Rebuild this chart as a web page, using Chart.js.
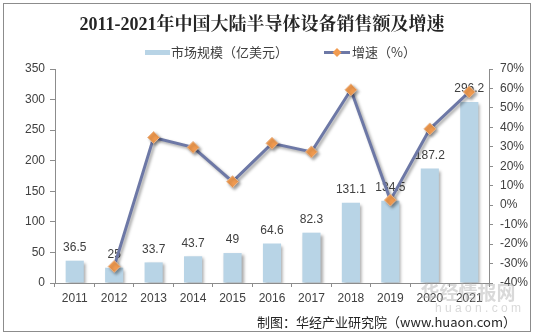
<!DOCTYPE html>
<html>
<head>
<meta charset="utf-8">
<script src="https://cdn.jsdelivr.net/npm/chart.js@4/dist/chart.umd.min.js"></script>
<style>
  html, body { margin: 0; padding: 0; background: #fff; }
  #c { display: block; }
</style>
</head>
<body>
<canvas id="c" width="535" height="336"></canvas>
<script>
const titleText = '2011-2021年中国大陆半导体设备销售额及增速';
const years = ['2011','2012','2013','2014','2015','2016','2017','2018','2019','2020','2021'];
const marketSize = [36.5, 25, 33.7, 43.7, 49, 64.6, 82.3, 131.1, 134.5, 187.2, 296.2];
const growthRate = [null, -31.5, 34.8, 29.7, 12.1, 31.8, 27.4, 59.3, 2.6, 39.2, 58.2];
const seriesNames = ['市场规模（亿美元）', '增速（%）'];
const sourceText = '制图：华经产业研究院（www.huaon.com）';

const BAR_COLOR = '#B8D4E6';
const LINE_COLOR = '#6D78A6';
const POINT_COLOR = '#F19B50';
const AXIS_COLOR = '#8C8C8C';
const TEXT_COLOR = '#404040';
const SANS = '"Liberation Sans", Arial, "Noto Sans CJK SC", sans-serif';
const CJK = '"Noto Sans CJK SC", "Liberation Sans", sans-serif';

const decor = {
  id: 'decor',
  beforeDraw(chart) {
    const ctx = chart.ctx;
    ctx.save();
    ctx.fillStyle = '#fff';
    ctx.fillRect(0, 0, chart.width, chart.height);
    ctx.restore();
  },
  beforeDatasetDraw(chart, args) {
    const ctx = chart.ctx;
    ctx.save();
    ctx.shadowColor = 'rgba(0,0,0,0.35)';
    ctx.shadowBlur = 3;
    ctx.shadowOffsetX = 2;
    ctx.shadowOffsetY = 2;
  },
  afterDatasetDraw(chart, args) {
    const ctx = chart.ctx;
    ctx.restore();
    if (chart.data.datasets[args.index].type === 'bar') {
      const meta = chart.getDatasetMeta(args.index);
      ctx.save();
      ctx.font = '12px ' + SANS;
      ctx.fillStyle = TEXT_COLOR;
      ctx.textAlign = 'center';
      ctx.textBaseline = 'middle';
      meta.data.forEach((el, i) => {
        ctx.fillText(String(marketSize[i]), el.x, el.y - 13);
      });
      ctx.restore();
    }
  },
  afterDraw(chart) {
    const ctx = chart.ctx;
    ctx.save();
    // border
    ctx.strokeStyle = AXIS_COLOR;
    ctx.lineWidth = 1;
    ctx.strokeRect(3.5, 3.5, 527, 328);
    // title
    ctx.fillStyle = '#262626';
    ctx.font = 'bold 18px "Liberation Serif", "Noto Serif CJK SC", "Noto Sans CJK SC", serif';
    ctx.textAlign = 'center';
    ctx.textBaseline = 'middle';
    ctx.fillText(titleText, 262, 25);
    // legend
    ctx.textAlign = 'left';
    ctx.font = '13px ' + CJK;
    ctx.fillStyle = BAR_COLOR;
    ctx.fillRect(145, 50, 25, 5);
    ctx.fillStyle = TEXT_COLOR;
    ctx.fillText(seriesNames[0], 171, 52);
    ctx.strokeStyle = LINE_COLOR;
    ctx.lineWidth = 3;
    ctx.beginPath();
    ctx.moveTo(324, 52.5);
    ctx.lineTo(350, 52.5);
    ctx.stroke();
    ctx.fillStyle = POINT_COLOR;
    ctx.beginPath();
    ctx.moveTo(337, 48);
    ctx.lineTo(341.5, 52.5);
    ctx.lineTo(337, 57);
    ctx.lineTo(332.5, 52.5);
    ctx.closePath();
    ctx.fill();
    ctx.fillStyle = TEXT_COLOR;
    ctx.fillText(seriesNames[1], 352, 52);
    // watermark
    ctx.fillStyle = 'rgba(170,170,170,0.45)';
    ctx.font = 'bold 19px ' + CJK;
    ctx.textAlign = 'center';
    ctx.fillText('华经情报网', 468, 293);
    ctx.font = '12px ' + SANS;
    ctx.fillText('h u a o n . c o m', 478, 309);
    // source
    ctx.fillStyle = '#262626';
    ctx.font = '13px ' + CJK;
    ctx.textAlign = 'right';
    ctx.fillText(sourceText, 516, 322);
    ctx.restore();
  }
};

new Chart(document.getElementById('c'), {
  data: {
    labels: years,
    datasets: [
      {
        type: 'line',
        label: seriesNames[1],
        data: growthRate,
        yAxisID: 'y1',
        borderColor: LINE_COLOR,
        borderWidth: 3,
        pointStyle: 'rectRot',
        pointRadius: 6,
        pointBackgroundColor: POINT_COLOR,
        pointBorderColor: '#E8B890',
        pointBorderWidth: 1,
        tension: 0,
        spanGaps: false,
        order: 0
      },
      {
        type: 'bar',
        label: seriesNames[0],
        data: marketSize,
        yAxisID: 'y',
        backgroundColor: BAR_COLOR,
        borderWidth: 0,
        barPercentage: 0.46,
        categoryPercentage: 1,
        order: 1
      }
    ]
  },
  options: {
    responsive: false,
    animation: false,
    events: [],
    layout: { padding: { top: 69, left: 0, right: 0, bottom: 28 } },
    plugins: {
      legend: { display: false },
      title: { display: false },
      tooltip: { enabled: false }
    },
    scales: {
      x: {
        offset: true,
        grid: { display: true, offset: true, drawOnChartArea: false, drawTicks: true, tickLength: 4, color: AXIS_COLOR },
        border: { display: true, color: AXIS_COLOR, width: 1 },
        ticks: { color: TEXT_COLOR, font: { size: 12, family: SANS }, padding: 4, maxRotation: 0, autoSkip: false },
        afterFit(s) { s.height = 25; }
      },
      y: {
        position: 'left',
        min: 0, max: 350,
        grid: { display: true, drawOnChartArea: false, drawTicks: true, tickLength: 5, color: AXIS_COLOR },
        border: { display: true, color: AXIS_COLOR, width: 1 },
        ticks: { stepSize: 50, color: TEXT_COLOR, font: { size: 12, family: SANS }, padding: 5 },
        afterFit(s) { s.width = 55; }
      },
      y1: {
        position: 'right',
        min: -40, max: 70,
        grid: { display: true, drawOnChartArea: false, drawTicks: true, tickLength: 4, color: AXIS_COLOR },
        border: { display: true, color: AXIS_COLOR, width: 1 },
        ticks: { stepSize: 10, color: TEXT_COLOR, font: { size: 12, family: SANS }, padding: 7,
                 callback: v => v + '%' },
        afterFit(s) { s.width = 46; }
      }
    }
  },
  plugins: [decor]
});
</script>
</body>
</html>
